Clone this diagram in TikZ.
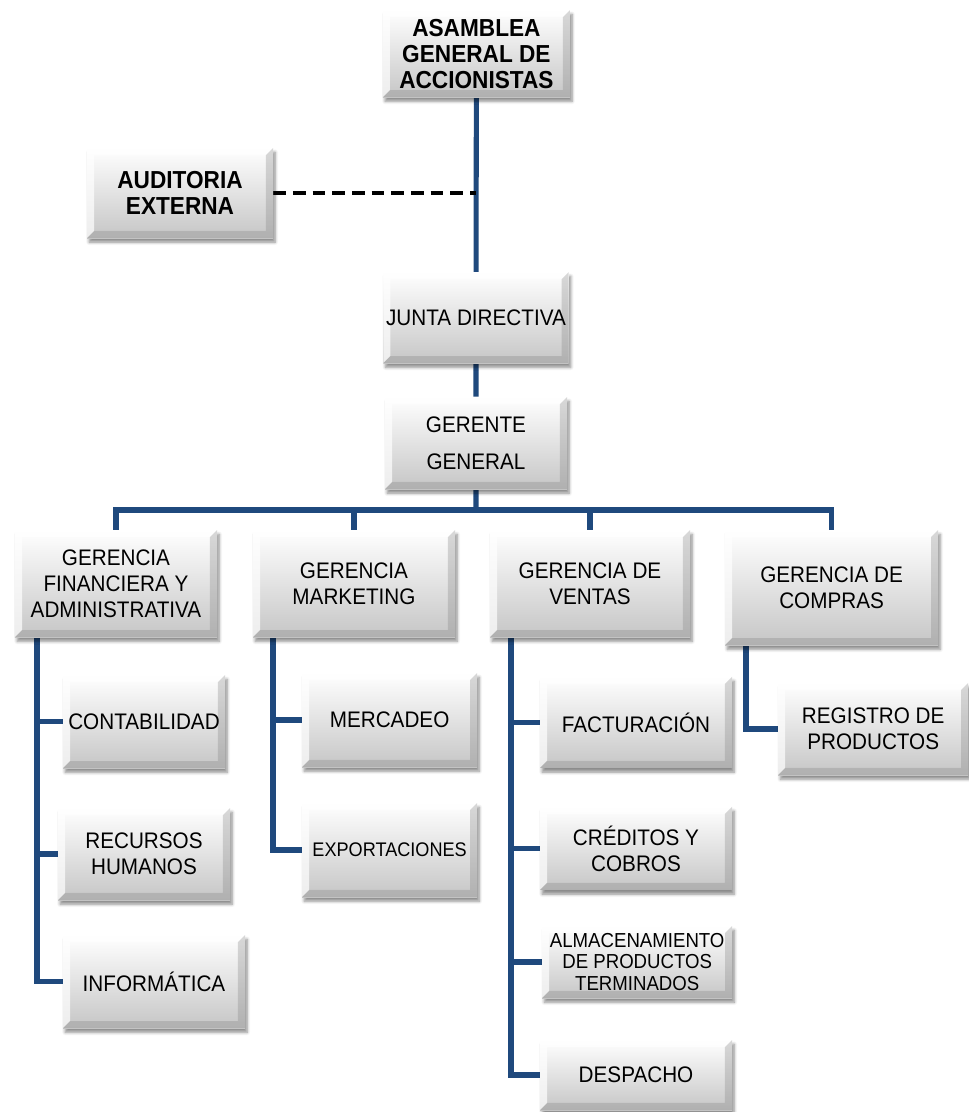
\documentclass[tikz,border=0pt]{standalone}
\usepackage{fontspec}
\setmainfont{Liberation Sans}[FakeStretch=0.92]
\usetikzlibrary{backgrounds,shadows.blur}

\definecolor{linkblue}{HTML}{1F497D}

\tikzstyle{unit}=[rectangle, align=center, inner sep=2pt,
  top color=white, middle color=gray!8, bottom color=gray!45,
  blur shadow={shadow xshift=1.5pt, shadow yshift=-3pt, shadow blur steps=6, shadow opacity=45},
  font=\fontsize{16}{18.5}\selectfont,
  path picture={
    \fill[white,opacity=.7] (path picture bounding box.north west) -- (path picture bounding box.north east) -- ++(-5pt,-5pt) -| ([shift={(5pt,5pt)}]path picture bounding box.south west) -- (path picture bounding box.south west) -- cycle;
    \fill[gray,opacity=.3] (path picture bounding box.south east) -- (path picture bounding box.north east) -- ++(-5pt,-5pt) |- ([shift={(5pt,5pt)}]path picture bounding box.south west) -- (path picture bounding box.south west) -- cycle;
  }]
\tikzstyle{head}=[unit, font=\bfseries\fontsize{17.5}{18.5}\selectfont]
\tikzstyle{link}=[draw=linkblue, line width=3.6pt]
\tikzstyle{dashlink}=[draw=black, line width=3pt, dash pattern=on 9pt off 5pt]

\begin{document}
\begin{tikzpicture}
\useasboundingbox (0,0) rectangle (24.225,-27.8);

\node[head, minimum width=4.675cm, minimum height=2.175cm] (asam) at (11.91,-1.34) {ASAMBLEA\\GENERAL DE\\ACCIONISTAS};
\node[head, minimum width=4.65cm, minimum height=2.25cm] (audit) at (4.5,-4.825) {AUDITORIA\\EXTERNA};
\node[unit, minimum width=4.55cm, minimum height=2.275cm] (junta) at (11.9,-7.94) {JUNTA DIRECTIVA};
\node[unit, minimum width=4.55cm, minimum height=2.3cm] (gerente) at (11.9,-11.075) {GERENTE\\[8pt]GENERAL};

\node[unit, minimum width=5.05cm, minimum height=2.675cm] (fin) at (2.9,-14.59) {GERENCIA\\FINANCIERA Y\\ADMINISTRATIVA};
\node[unit, minimum width=5.05cm, minimum height=2.675cm] (mkt) at (8.85,-14.59) {GERENCIA\\MARKETING};
\node[unit, minimum width=5cm, minimum height=2.675cm] (ven) at (14.75,-14.59) {GERENCIA DE\\VENTAS};
\node[unit, minimum width=5.325cm, minimum height=2.875cm] (com) at (20.79,-14.69) {GERENCIA DE\\COMPRAS};

\node[unit, minimum width=4.05cm, minimum height=2.325cm] (cont) at (3.6,-18.04) {CONTABILIDAD};
\node[unit, minimum width=4.3cm, minimum height=2.3cm] (rrhh) at (3.6,-21.35) {RECURSOS\\HUMANOS};
\node[unit, minimum width=4.55cm, minimum height=2.325cm] (info) at (3.85,-24.54) {INFORMÁTICA};

\node[unit, minimum width=4.375cm, minimum height=2.35cm] (merc) at (9.74,-18.0) {MERCADEO};
\node[unit, minimum width=4.375cm, minimum height=2.35cm, font=\fontsize{14}{16}\selectfont] (expo) at (9.74,-21.25) {EXPORTACIONES};

\node[unit, minimum width=4.8cm, minimum height=2.275cm] (fact) at (15.9,-18.06) {FACTURACIÓN};
\node[unit, minimum width=4.8cm, minimum height=2.075cm] (cred) at (15.9,-21.21) {CRÉDITOS Y\\COBROS};
\node[unit, minimum width=4.75cm, minimum height=1.8cm, font=\fontsize{14.4}{15.5}\selectfont] (alma) at (15.93,-24.05) {ALMACENAMIENTO\\DE PRODUCTOS\\TERMINADOS};
\node[unit, minimum width=4.8cm, minimum height=1.75cm] (desp) at (15.9,-26.875) {DESPACHO};

\node[unit, minimum width=4.75cm, minimum height=2.3cm] (regi) at (21.83,-18.225) {REGISTRO DE\\PRODUCTOS};

\coordinate (bus) at (11.9,-12.75);
\coordinate (fs) at (0.925,-14.59);
\coordinate (ms) at (6.825,-14.59);
\coordinate (vs) at (12.775,-14.59);
\coordinate (cs) at (18.65,-14.69);

\begin{pgfonlayer}{background}
\draw[link] (asam) -- (junta) -- (gerente) -- (bus);
\draw[dashlink] (audit) -- (audit -| asam);
\draw[link] (fin) |- (bus) -| (com);
\foreach \g in {mkt,ven}
  \draw[link] (\g) -- (\g |- bus);
\foreach \s in {cont,rrhh,info}
  \draw[link] (fs) |- (\s);
\foreach \s in {merc,expo}
  \draw[link] (ms) |- (\s);
\foreach \s in {fact,cred,alma,desp}
  \draw[link] (vs) |- (\s);
\draw[link] (cs) |- (regi);
\end{pgfonlayer}
\end{tikzpicture}
\end{document}
